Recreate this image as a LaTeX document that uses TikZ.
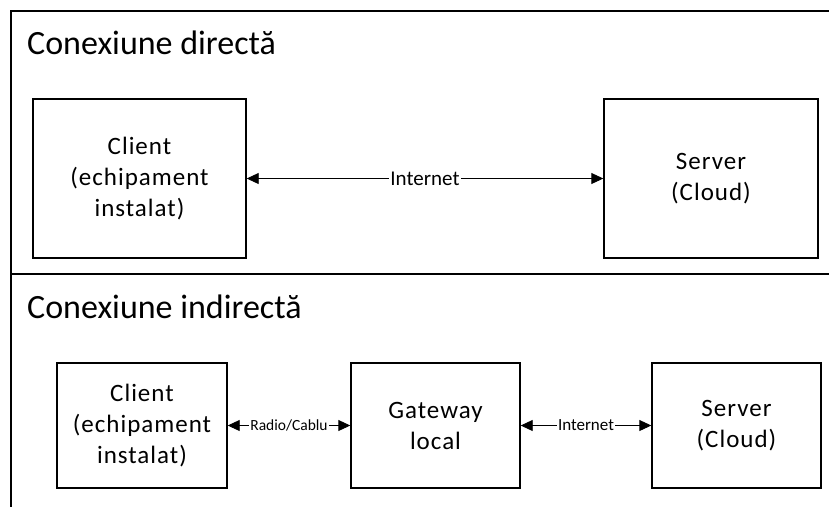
\documentclass[tikz,border=0pt]{standalone}
\usepackage{fontspec}
\setmainfont{Carlito}
\usetikzlibrary{arrows.meta}

\tikzset{
  frameline/.style={line width=1.8pt},
  block/.style={draw, line width=1.4pt, inner sep=0pt, align=center,
                font=\fontsize{25}{31}\selectfont\addfontfeature{LetterSpace=4}},
  link/.style={line width=0.9pt, {Triangle[length=12pt,width=11pt]}-{Triangle[length=12pt,width=11pt]}},
  linklabel/.style={fill=white, inner sep=1pt},
  heading/.style={anchor=base west, inner sep=0pt, font=\fontsize{34}{40}\selectfont}
}

\begin{document}
\begin{tikzpicture}[x=1pt, y=-1pt]
  \useasboundingbox (0,0) rectangle (829,507);

  % section frame
  \draw[frameline] (829,11) -- (11,11) -- (11,507);
  \draw[frameline] (11,274) -- (829,274);

  % direct connection
  \node[heading] (t1) at (27,54) {Conexiune directă};
  \node[block, minimum width=213pt, minimum height=159pt] (c1) at (139.5,178.5)
       {Client\\(echipament\\instalat)};
  \node[block, minimum width=214pt, minimum height=159pt] (s1) at (711,178.5)
       {Server\\(Cloud)};
  \draw[link] (c1.east) -- node[linklabel, font=\fontsize{21}{24}\selectfont] {Internet} (s1.west);

  % indirect connection
  \node[heading] (t2) at (27,318) {Conexiune indirectă};
  \node[block, minimum width=170pt, minimum height=125pt] (c2) at (142,425.5)
       {Client\\(echipament\\instalat)};
  \node[block, minimum width=169pt, minimum height=125pt] (g2) at (435.5,425.5)
       {Gateway\\local};
  \node[block, minimum width=169pt, minimum height=125pt] (s2) at (736.5,425.5)
       {Server\\(Cloud)};
  \draw[link] (c2.east) -- node[linklabel, font=\fontsize{15.5}{18}\selectfont] {Radio/Cablu} (g2.west);
  \draw[link] (g2.east) -- node[linklabel, font=\fontsize{17}{20}\selectfont] {Internet} (s2.west);
\end{tikzpicture}
\end{document}
